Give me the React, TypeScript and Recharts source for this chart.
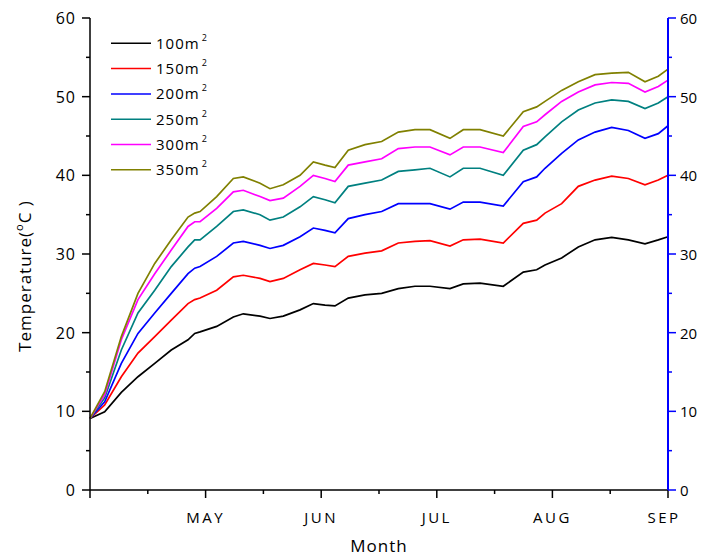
import React from 'react';
import { LineChart, Line, XAxis, YAxis, Legend } from 'recharts';

// x positions in months since 1 April (0 = Apr 1, 5 = Sep 1)
const monthPos = [0, 0.127, 0.271, 0.415, 0.56, 0.703, 0.848, 0.906, 0.952, 1.096, 1.24, 1.326, 1.471, 1.557, 1.672, 1.817, 1.932, 2.033, 2.119, 2.234, 2.379, 2.523, 2.667, 2.811, 2.941, 3.114, 3.229, 3.374, 3.575, 3.748, 3.864, 3.936, 4.08, 4.224, 4.369, 4.513, 4.657, 4.801, 4.916, 5.0];

const t100 = [9.1, 9.95, 12.4, 14.4, 16.1, 17.8, 19.1, 19.9, 20.1, 20.8, 22.0, 22.4, 22.1, 21.8, 22.1, 22.9, 23.7, 23.5, 23.4, 24.4, 24.8, 25.0, 25.6, 25.9, 25.9, 25.6, 26.2, 26.3, 25.9, 27.7, 28.0, 28.6, 29.5, 30.9, 31.8, 32.1, 31.8, 31.3, 31.8, 32.2];
const t150 = [9.1, 10.8, 14.4, 17.4, 19.5, 21.6, 23.7, 24.2, 24.4, 25.4, 27.1, 27.3, 26.9, 26.5, 26.9, 28.0, 28.8, 28.6, 28.4, 29.7, 30.1, 30.4, 31.4, 31.6, 31.7, 31.0, 31.8, 31.9, 31.4, 33.9, 34.3, 35.2, 36.4, 38.6, 39.4, 39.9, 39.6, 38.8, 39.4, 40.0];
const t200 = [9.1, 11.2, 16.1, 19.9, 22.5, 25.0, 27.5, 28.2, 28.4, 29.7, 31.4, 31.6, 31.1, 30.7, 31.1, 32.2, 33.3, 33.0, 32.7, 34.5, 35.0, 35.4, 36.4, 36.4, 36.4, 35.7, 36.6, 36.6, 36.1, 39.2, 39.8, 40.9, 42.8, 44.5, 45.5, 46.1, 45.7, 44.7, 45.3, 46.3];
const t250 = [9.1, 11.7, 17.8, 22.5, 25.4, 28.4, 30.9, 31.8, 31.8, 33.5, 35.4, 35.6, 35.0, 34.3, 34.7, 36.0, 37.3, 36.9, 36.5, 38.6, 39.0, 39.4, 40.5, 40.7, 40.9, 39.8, 40.9, 40.9, 40.0, 43.2, 43.9, 44.9, 46.8, 48.3, 49.2, 49.6, 49.4, 48.5, 49.2, 50.0];
const t300 = [9.1, 12.1, 19.1, 24.2, 27.5, 30.5, 33.5, 34.1, 34.1, 35.8, 37.9, 38.1, 37.3, 36.8, 37.1, 38.6, 40.0, 39.6, 39.2, 41.3, 41.7, 42.1, 43.4, 43.6, 43.6, 42.6, 43.6, 43.6, 42.9, 46.2, 46.8, 47.7, 49.4, 50.6, 51.5, 51.8, 51.7, 50.6, 51.3, 52.1];
const t350 = [9.1, 12.5, 19.5, 25.0, 28.8, 31.8, 34.7, 35.2, 35.4, 37.3, 39.6, 39.8, 39.0, 38.3, 38.8, 40.0, 41.7, 41.3, 41.0, 43.2, 43.9, 44.3, 45.5, 45.8, 45.8, 44.7, 45.8, 45.8, 45.0, 48.1, 48.7, 49.4, 50.8, 51.9, 52.8, 53.0, 53.1, 51.9, 52.6, 53.5];

const seriesNames = ['100', '150', '200', '250', '300', '350'];
const seriesColors = ['#000000', '#ff0000', '#0000ff', '#008080', '#ff00ff', '#808000'];
const seriesValues = [t100, t150, t200, t250, t300, t350];

const xTicks = [0, 0.5, 1, 1.5, 2, 2.5, 3, 3.5, 4, 4.5, 5];
const monthNames = ['MAY', 'JUN', 'JUL', 'AUG', 'SEP'];
const yTicks = [0, 5, 10, 15, 20, 25, 30, 35, 40, 45, 50, 55, 60];

const data = monthPos.map((m, i) => {
  const row: any = { m };
  seriesNames.forEach((n, k) => { row['s' + n] = seriesValues[k][i]; });
  return row;
});

const FONT = '"Open Sans", "DejaVu Sans", sans-serif';

const BottomTick = (props: any) => {
  const { x, y, payload } = props;
  const v = payload.value;
  const major = Number.isInteger(v);
  return (
    <g>
      <line x1={x} x2={x} y1={y} y2={y + (major ? 8 : 4)} stroke="#000" strokeWidth={1.5} />
      {major && v >= 1 && (
        <text x={v === 5 ? x - 4 : x} y={y + 33} textAnchor="middle" fontSize={15} fontFamily={FONT} letterSpacing={2.5} fill="#000">
          {monthNames[v - 1]}
        </text>
      )}
    </g>
  );
};

const TopTick = (props: any) => {
  const { x, y, payload } = props;
  const major = Number.isInteger(payload.value);
  return <line x1={x} x2={x} y1={y} y2={y + (major ? 8 : 4)} stroke="#000" strokeWidth={1.5} />;
};

const LeftTick = (props: any) => {
  const { x, y, payload } = props;
  const v = payload.value;
  const major = v % 10 === 0;
  return (
    <g>
      <line x1={x} x2={x - (major ? 8 : 4)} y1={y} y2={y} stroke="#000" strokeWidth={1.5} />
      {major && (
        <text x={x - 14} y={y} dy={6} textAnchor="end" fontSize={16} fontFamily={FONT} letterSpacing={1} fill="#000">
          {v}
        </text>
      )}
    </g>
  );
};

const RightTick = (props: any) => {
  const { x, y, payload } = props;
  const v = payload.value;
  const major = v % 10 === 0;
  return (
    <g>
      <line x1={x} x2={x + (major ? 8 : 4)} y1={y} y2={y} stroke="#0000ff" strokeWidth={1.5} />
      {major && (
        <text x={x + 12} y={y} dy={6} textAnchor="start" fontSize={15} fontFamily={FONT} fill="#000">
          {v}
        </text>
      )}
    </g>
  );
};

const YTitle = (props: any) => {
  const vb = props.viewBox || { x: 0, y: 10, width: 82, height: 472 };
  const cx = vb.x + 17;
  const cy = vb.y + vb.height / 2 + 22;
  return (
    <text transform={`translate(${cx},${cy}) rotate(-90)`} textAnchor="middle" fontSize={17} fontFamily={FONT} letterSpacing={1} fill="#000" dy={6}>
      Temperature(
      <tspan fontSize={11} dy={-8}>o</tspan>
      <tspan dy={8}>C )</tspan>
    </text>
  );
};

const XTitle = (props: any) => {
  const vb = props.viewBox || { x: 82, y: 482, width: 578, height: 66 };
  return (
    <text x={vb.x + vb.width / 2} y={vb.y + 62} textAnchor="middle" fontSize={17} fontFamily={FONT} letterSpacing={1} fill="#000">
      Month
    </text>
  );
};

const LegendBox = () => (
  <svg width={120} height={175} style={{ display: 'block' }}>
    {seriesNames.map((n, i) => {
      const y = 20.3 + 25.3 * i;
      return (
        <g key={n}>
          <line x1={3} x2={43} y1={y} y2={y} stroke={seriesColors[i]} strokeWidth={1.5} />
          <text x={48} y={y + 5.5} fontSize={15} fontFamily={FONT} letterSpacing={1} fill="#000">
            {n}m
            <tspan fontSize={9} dy={-8} dx={2}>2</tspan>
          </text>
        </g>
      );
    })}
  </svg>
);

export default function App() {
  return (
    <div style={{ width: 699, height: 548 }}>
      <style>{'html{overflow:hidden;}'}</style>
      <LineChart width={699} height={548} data={data} margin={{ top: 10, right: 0, bottom: 0, left: 0 }}>
        <XAxis
          xAxisId="bottom"
          dataKey="m"
          type="number"
          domain={[0, 5]}
          ticks={xTicks}
          interval={0}
          tick={<BottomTick />}
          tickLine={false}
          tickSize={0}
          tickMargin={0}
          height={66}
          axisLine={{ stroke: '#000', strokeWidth: 1.5 }}
          label={(p: any) => <XTitle {...p} />}
        />
        <XAxis
          xAxisId="top"
          orientation="top"
          dataKey="m"
          type="number"
          domain={[0, 5]}
          ticks={xTicks}
          interval={0}
          tick={<TopTick />}
          tickLine={false}
          tickSize={0}
          tickMargin={0}
          height={0}
          axisLine={{ stroke: '#000', strokeWidth: 1.5 }}
        />
        <YAxis
          yAxisId="left"
          domain={[0, 60]}
          ticks={yTicks}
          interval={0}
          tick={<LeftTick />}
          tickLine={false}
          tickSize={0}
          tickMargin={0}
          width={82}
          axisLine={{ stroke: '#000', strokeWidth: 1.5 }}
          label={(p: any) => <YTitle {...p} />}
        />
        <YAxis
          yAxisId="right"
          orientation="right"
          domain={[0, 60]}
          ticks={yTicks}
          interval={0}
          tick={<RightTick />}
          tickLine={false}
          tickSize={0}
          tickMargin={0}
          width={39}
          axisLine={{ stroke: '#0000ff', strokeWidth: 2 }}
        />
        <Legend
          layout="vertical"
          align="center"
          verticalAlign="middle"
          wrapperStyle={{ position: 'absolute', left: 100, top: 15, width: 120, height: 175 }}
          content={() => <LegendBox />}
        />
        {seriesNames.map((n, i) => (
          <Line
            key={n}
            xAxisId="bottom"
            yAxisId="left"
            type="linear"
            dataKey={'s' + n}
            name={n + 'm²'}
            stroke={seriesColors[i]}
            strokeWidth={1.7}
            dot={false}
            isAnimationActive={false}
          />
        ))}
        <Line
          xAxisId="top"
          yAxisId="right"
          type="linear"
          dataKey="s100"
          stroke="none"
          strokeOpacity={0}
          legendType="none"
          dot={false}
          activeDot={false}
          isAnimationActive={false}
        />
      </LineChart>
    </div>
  );
}
